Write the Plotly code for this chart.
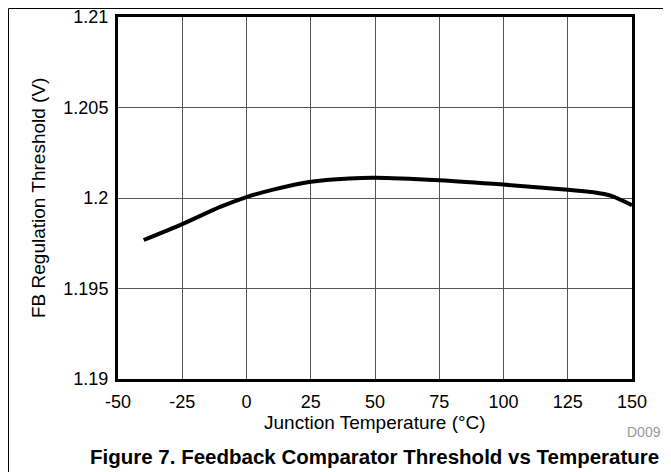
import plotly.graph_objects as go

# Junction temperature (degC) and FB regulation threshold (V)
temperature = [-40, -25, -10, 0, 10, 25, 40, 50, 75, 100, 125, 135, 142, 150]
threshold = [1.19768, 1.19856, 1.19952, 1.20005, 1.20045, 1.20090, 1.20108,
             1.20112, 1.20098, 1.20074, 1.20045, 1.20032, 1.20012, 1.19960]

x_ticks = [-50, -25, 0, 25, 50, 75, 100, 125, 150]
x_tick_text = ["-50", "-25", "0", "25", "50", "75", "100", "125", "150"]
y_ticks = [1.19, 1.195, 1.2, 1.205, 1.21]
y_tick_text = ["1.19", "1.195", "1.2", "1.205", "1.21"]

# the page body keeps its default 8px margin, so the figure is 8px smaller
OFF = 8
W, H = 671 - OFF, 472 - OFF
# plot area in page pixels
L, R, T, B = 118, 632, 17, 379


def px(x):
    return (x - L) / (R - L)


def py(y):
    return (B - y) / (B - T)


font = "Liberation Sans, Arial, sans-serif"

fig = go.Figure()
fig.add_trace(go.Scatter(x=temperature, y=threshold, mode="lines",
                         line=dict(color="black", width=4, shape="spline", smoothing=0.8),
                         showlegend=False, hoverinfo="skip"))

axis_common = dict(showgrid=True, gridcolor="#555555", gridwidth=1, zeroline=False,
                   showline=True, linecolor="black", linewidth=3, mirror=True,
                   automargin=False, ticks="", ticklabeloverflow="allow",
                   tickfont=dict(family=font, size=18, color="black"))

fig.update_xaxes(range=[-50, 150], tickvals=x_ticks, ticktext=x_tick_text,
                 ticklabelstandoff=4, **axis_common)
fig.update_yaxes(range=[1.19, 1.21], tickvals=y_ticks, ticktext=y_tick_text,
                 ticklabelstandoff=3, **axis_common)

annotations = [
    dict(text="Junction Temperature (°C)", x=0.5, y=py(423), xref="paper", yref="paper",
         showarrow=False, font=dict(family=font, size=19, color="black"),
         xanchor="center", yanchor="middle"),
    dict(text="FB Regulation Threshold (V)", x=px(38), y=0.5, xref="paper", yref="paper",
         showarrow=False, textangle=-90, font=dict(family=font, size=19, color="black"),
         xanchor="center", yanchor="middle"),
    dict(text="<b>Figure 7. Feedback Comparator Threshold vs Temperature</b>",
         x=px(374), y=py(456), xref="paper", yref="paper", showarrow=False,
         font=dict(family=font, size=20.5, color="black"), xanchor="center", yanchor="middle"),
    dict(text="D009", x=px(644), y=py(432), xref="paper", yref="paper", showarrow=False,
         font=dict(family=font, size=14, color="#999999"), xanchor="center", yanchor="middle"),
]

# thin frame on the left and top of the page
shapes = [
    dict(type="line", xref="paper", yref="paper", x0=px(OFF + 0.5), x1=px(OFF + 0.5),
         y0=py(OFF + 0.5), y1=py(700), line=dict(color="black", width=1)),
    dict(type="line", xref="paper", yref="paper", x0=px(OFF + 0.5), x1=px(700),
         y0=py(OFF + 0.5), y1=py(OFF + 0.5), line=dict(color="black", width=1)),
]

fig.update_layout(width=W, height=H,
                  margin=dict(l=L - OFF, r=W - (R - OFF), t=T - OFF, b=H - (B - OFF)),
                  plot_bgcolor="white", paper_bgcolor="white",
                  annotations=annotations, shapes=shapes)

fig.write_html("out.html")
